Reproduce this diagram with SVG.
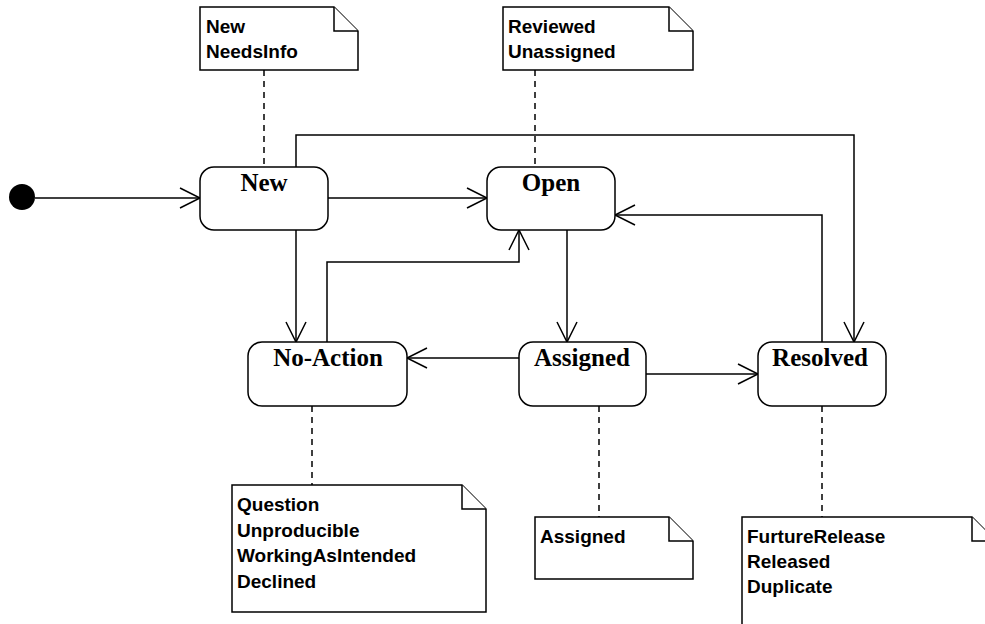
<svg xmlns="http://www.w3.org/2000/svg" width="985" height="624" viewBox="0 0 985 624">
<style>
.state{fill:#fff;stroke:#000;stroke-width:1.5}
.slabel{font-family:"Liberation Serif",serif;font-weight:bold;font-size:25px;text-anchor:middle;fill:#000}
.note{fill:#fff;stroke:#000;stroke-width:1.5}
.ntext{font-family:"Liberation Sans",Arial,sans-serif;font-weight:bold;font-size:19px;fill:#000}
.edge{fill:none;stroke:#000;stroke-width:1.5}
.dash{fill:none;stroke:#000;stroke-width:1.5;stroke-dasharray:6,5}
</style>
<defs>
<marker id="arr" viewBox="-22 -12 24 24" refX="0" refY="0" markerWidth="24" markerHeight="24" markerUnits="userSpaceOnUse" orient="auto">
<path d="M -20 -10 L 0 0 L -20 10" fill="none" stroke="#000" stroke-width="1.5"/>
</marker>
</defs>
<g id="connectors">
<line class="edge" x1="35" y1="198" x2="200" y2="198" marker-end="url(#arr)"/>
<line class="edge" x1="328" y1="198" x2="487" y2="198" marker-end="url(#arr)"/>
<polyline class="edge" points="296,167 296,135 854,135 854,342" marker-end="url(#arr)"/>
<line class="edge" x1="296" y1="230" x2="296" y2="342" marker-end="url(#arr)"/>
<polyline class="edge" points="327,342 327,262 519,262 519,230" marker-end="url(#arr)"/>
<line class="edge" x1="567" y1="230" x2="567" y2="342" marker-end="url(#arr)"/>
<polyline class="edge" points="822,342 822,215 615,215" marker-end="url(#arr)"/>
<line class="edge" x1="519" y1="358" x2="407" y2="358" marker-end="url(#arr)"/>
<line class="edge" x1="646" y1="374" x2="758" y2="374" marker-end="url(#arr)"/>
<line class="dash" x1="264" y1="70" x2="264" y2="167"/>
<line class="dash" x1="535" y1="70" x2="535" y2="167"/>
<line class="dash" x1="312" y1="406" x2="312" y2="485"/>
<line class="dash" x1="599" y1="406" x2="599" y2="517"/>
<line class="dash" x1="822" y1="406" x2="822" y2="517"/>
</g>
<g id="initial">
<circle cx="22" cy="197" r="13" fill="#000"/>
</g>
<g id="state-new">
<rect class="state" x="200" y="167" width="128" height="63" rx="14" ry="14"/>
<text class="slabel" x="264" y="191">New</text>
</g>
<g id="state-open">
<rect class="state" x="487" y="167" width="128" height="63" rx="14" ry="14"/>
<text class="slabel" x="551" y="191">Open</text>
</g>
<g id="state-noaction">
<rect class="state" x="248" y="342" width="159" height="64" rx="14" ry="14"/>
<text class="slabel" x="328" y="366">No-Action</text>
</g>
<g id="state-assigned">
<rect class="state" x="519" y="342" width="127" height="64" rx="14" ry="14"/>
<text class="slabel" x="582" y="366">Assigned</text>
</g>
<g id="state-resolved">
<rect class="state" x="758" y="342" width="128" height="64" rx="14" ry="14"/>
<text class="slabel" x="820" y="366">Resolved</text>
</g>
<g id="note-new">
<path class="note" d="M200 7 L334 7 L358 31 L358 70 L200 70 Z"/>
<path class="note" d="M334 7 L334 31 L358 31" fill="none"/>
<text class="ntext" x="206" y="33">New</text>
<text class="ntext" x="206" y="58">NeedsInfo</text>
</g>
<g id="note-open">
<path class="note" d="M503 7 L669 7 L693 31 L693 70 L503 70 Z"/>
<path class="note" d="M669 7 L669 31 L693 31" fill="none"/>
<text class="ntext" x="508" y="33">Reviewed</text>
<text class="ntext" x="508" y="58">Unassigned</text>
</g>
<g id="note-noaction">
<path class="note" d="M232 485 L462 485 L486 509 L486 612 L232 612 Z"/>
<path class="note" d="M462 485 L462 509 L486 509" fill="none"/>
<text class="ntext" x="237" y="511">Question</text>
<text class="ntext" x="237" y="537">Unproducible</text>
<text class="ntext" x="237" y="562">WorkingAsIntended</text>
<text class="ntext" x="237" y="588">Declined</text>
</g>
<g id="note-assigned">
<path class="note" d="M535 517 L669 517 L693 541 L693 579 L535 579 Z"/>
<path class="note" d="M669 517 L669 541 L693 541" fill="none"/>
<text class="ntext" x="540" y="543">Assigned</text>
</g>
<g id="note-resolved">
<path class="note" d="M742 517 L972 517 L996 541 L996 650 L742 650 Z"/>
<path class="note" d="M972 517 L972 541 L996 541" fill="none"/>
<text class="ntext" x="747" y="543">FurtureRelease</text>
<text class="ntext" x="747" y="568">Released</text>
<text class="ntext" x="747" y="593">Duplicate</text>
</g>
</svg>
